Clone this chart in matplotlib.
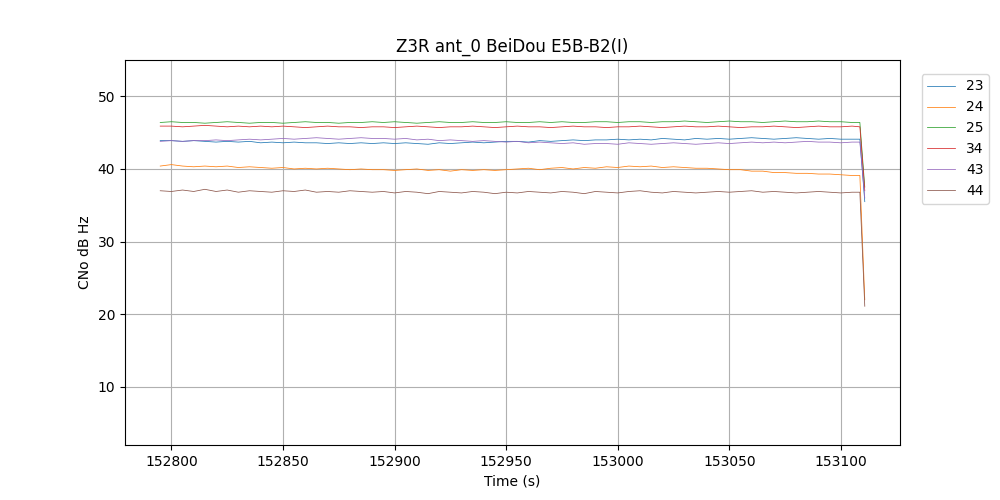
import matplotlib
matplotlib.use("Agg")
import matplotlib.pyplot as plt
import numpy as np

TITLE = "Z3R ant_0 BeiDou E5B-B2(I)"

# sample times (s): 5 s steps, then the last two epochs where the signal drops
time_s = list(np.arange(152795, 153106, 5)) + [153108.5, 153110.7]

sv_23 = [43.9, 43.9, 43.8, 43.9, 43.8, 43.7, 43.8, 43.7, 43.8, 43.6,
         43.7, 43.6, 43.7, 43.6, 43.6, 43.5, 43.6, 43.5, 43.6, 43.5,
         43.6, 43.5, 43.6, 43.5, 43.4, 43.6, 43.5, 43.6, 43.7, 43.6,
         43.7, 43.8, 43.8, 43.7, 43.9, 43.8, 43.9, 44.0, 43.9, 44.0,
         44.0, 44.1, 44.0, 44.1, 44.0, 44.2, 44.1, 44.0, 44.2, 44.1,
         44.2, 44.1, 44.2, 44.3, 44.2, 44.1, 44.2, 44.3, 44.2, 44.1,
         44.2, 44.1, 44.1, 44.1, 35.5]
sv_24 = [40.4, 40.6, 40.4, 40.3, 40.4, 40.3, 40.4, 40.2, 40.3, 40.2,
         40.1, 40.2, 40.0, 40.1, 40.0, 40.1, 40.0, 39.9, 40.0, 39.9,
         39.9, 39.8, 39.9, 40.0, 39.8, 39.9, 39.7, 39.9, 39.8, 39.9,
         39.8, 39.9, 40.0, 40.1, 39.9, 40.1, 40.2, 40.0, 40.2, 40.1,
         40.3, 40.2, 40.4, 40.3, 40.4, 40.2, 40.3, 40.2, 40.1, 40.1,
         40.0, 39.9, 39.9, 39.7, 39.7, 39.5, 39.5, 39.4, 39.4, 39.3,
         39.3, 39.2, 39.1, 39.1, 22.0]
sv_25 = [46.4, 46.5, 46.4, 46.4, 46.3, 46.4, 46.5, 46.4, 46.3, 46.4,
         46.4, 46.3, 46.4, 46.5, 46.4, 46.4, 46.3, 46.4, 46.4, 46.5,
         46.4, 46.5, 46.4, 46.3, 46.4, 46.5, 46.4, 46.4, 46.5, 46.4,
         46.4, 46.5, 46.4, 46.4, 46.5, 46.4, 46.5, 46.4, 46.4, 46.5,
         46.5, 46.4, 46.5, 46.5, 46.4, 46.5, 46.5, 46.6, 46.5, 46.4,
         46.5, 46.6, 46.5, 46.5, 46.4, 46.5, 46.6, 46.5, 46.5, 46.6,
         46.5, 46.5, 46.4, 46.4, 37.5]
sv_34 = [45.9, 45.9, 45.8, 45.9, 46.0, 45.9, 45.8, 45.9, 45.8, 45.9,
         45.8, 45.9, 45.8, 45.7, 45.8, 45.9, 45.8, 45.8, 45.7, 45.8,
         45.8, 45.7, 45.8, 45.9, 45.8, 45.7, 45.8, 45.8, 45.9, 45.8,
         45.7, 45.8, 45.9, 45.8, 45.8, 45.7, 45.8, 45.9, 45.8, 45.8,
         45.7, 45.8, 45.8, 45.9, 45.8, 45.7, 45.8, 45.9, 45.8, 45.8,
         45.9, 45.8, 45.7, 45.8, 45.8, 45.9, 45.8, 45.7, 45.8, 45.9,
         45.8, 45.8, 45.9, 45.8, 37.0]
sv_43 = [43.8, 43.9, 43.8, 43.9, 43.9, 44.0, 43.9, 44.0, 44.1, 44.0,
         44.1, 44.2, 44.1, 44.2, 44.3, 44.2, 44.1, 44.2, 44.3, 44.2,
         44.2, 44.1, 44.2, 44.0, 44.1, 43.9, 44.0, 43.9, 43.8, 43.9,
         43.8, 43.7, 43.8, 43.6, 43.7, 43.6, 43.5, 43.6, 43.4, 43.5,
         43.5, 43.4, 43.6, 43.5, 43.4, 43.5, 43.6, 43.5, 43.4, 43.5,
         43.6, 43.5, 43.6, 43.7, 43.6, 43.7, 43.6, 43.7, 43.8, 43.7,
         43.7, 43.6, 43.7, 43.7, 36.0]
sv_44 = [37.0, 36.9, 37.1, 36.9, 37.2, 36.9, 37.1, 36.8, 37.0, 36.9,
         36.8, 37.0, 36.9, 37.1, 36.8, 36.9, 36.8, 37.0, 36.9, 36.8,
         36.9, 36.7, 36.9, 36.8, 36.6, 36.9, 36.8, 36.7, 36.9, 36.8,
         36.6, 36.8, 36.7, 36.9, 36.8, 36.7, 36.9, 36.8, 36.6, 36.9,
         36.8, 36.7, 36.9, 37.0, 36.8, 36.7, 36.9, 36.8, 36.7, 36.8,
         36.9, 36.8, 36.9, 37.0, 36.8, 36.9, 36.8, 36.7, 36.8, 36.9,
         36.8, 36.7, 36.8, 36.8, 21.1]

SV_LABELS = ["23", "24", "25", "34", "43", "44"]
SV_SERIES = [sv_23, sv_24, sv_25, sv_34, sv_43, sv_44]


def main() -> None:
    fig, ax = plt.subplots(figsize=(10, 5), dpi=100)
    for label, vals in zip(SV_LABELS, SV_SERIES):
        ax.plot(time_s, vals, linewidth=0.55, label=label)

    ax.set_ylim(2, 55)
    ax.ticklabel_format(axis="x", useOffset=False, style="plain")
    ax.set_title(TITLE)
    ax.set_xlabel("Time (s)")
    ax.set_ylabel("CNo dB Hz")
    ax.grid(True)
    ax.legend(loc="upper left", bbox_to_anchor=(1.019, 0.982))
    fig.savefig("out.png", dpi=100)
    plt.close(fig)


if __name__ == "__main__":
    main()
